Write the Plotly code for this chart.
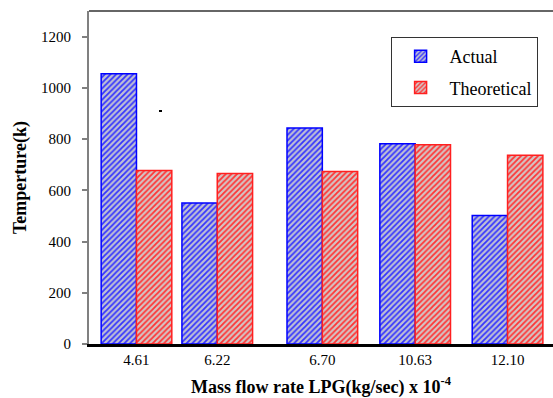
import plotly.graph_objects as go

categories = ["4.61", "6.22", "6.70", "10.63", "12.10"]
actual = [1055, 550, 843, 782, 502]
theoretical = [677, 666, 673, 778, 737]

# category positions along the axis (uneven spacing as in the original)
x_pos = [0, 0.878, 2.020, 3.029, 4.033]
bar_w = 0.384

FONT = "Liberation Serif, Times New Roman, serif"

fig = go.Figure()
fig.add_trace(go.Bar(
    x=x_pos, y=actual, name="Actual", width=bar_w, offset=-bar_w,
    legendgroup="a",
    marker=dict(color="#b4b4c8", line=dict(color="#0000ff", width=1.5),
                pattern=dict(shape="/", fgcolor="#3434ff", bgcolor="#c0c0d4",
                             size=4, solidity=0.45, fillmode="replace")),
))
fig.add_trace(go.Bar(
    x=x_pos, y=theoretical, name="Theoretical", width=bar_w, offset=0,
    legendgroup="b",
    marker=dict(color="#d0b8b8", line=dict(color="#ff2020", width=1.5),
                pattern=dict(shape="/", fgcolor="#ff3434", bgcolor="#d4c4c4",
                             size=4, solidity=0.45, fillmode="replace")),
))

fig.update_layout(
    width=553, height=398,
    margin=dict(l=89, r=0, t=11, b=54),
    paper_bgcolor="white", plot_bgcolor="white",
    font=dict(family=FONT, color="black"),
    barmode="overlay",
    showlegend=True,
    legend=dict(x=0.65, y=0.922, xanchor="left", yanchor="top",
                bordercolor="#333333", borderwidth=1, bgcolor="white",
                font=dict(family=FONT, size=18), tracegroupgap=5,
                itemwidth=48),
    xaxis=dict(
        range=[-0.516, 4.527], tickvals=x_pos, ticktext=categories,
        showgrid=False, zeroline=False, ticks="",
        showline=True, linecolor="black", linewidth=2.5,
        tickfont=dict(family=FONT, size=15),
        title=dict(text="<b>Mass flow rate LPG(kg/sec) x 10<sup>-4</sup></b>",
                   font=dict(family=FONT, size=18), standoff=14),
    ),
    yaxis=dict(
        range=[0, 1300], tickvals=[0, 200, 400, 600, 800, 1000, 1200],
        showgrid=False, zeroline=False,
        ticks="outside", ticklen=5, tickcolor="#808080", tickwidth=1.5,
        showline=True, linecolor="#808080", linewidth=2,
        tickfont=dict(family=FONT, size=15), ticklabelstandoff=8,
        title=dict(text="<b>Temperture(k)</b>",
                   font=dict(family=FONT, size=18), standoff=10),
    ),
    shapes=[
        dict(type="line", xref="paper", yref="paper", x0=0, x1=1, y0=1, y1=1,
             line=dict(color="#333333", width=1.5)),
        dict(type="rect", xref="paper", yref="paper",
             x0=(159 - 89) / 464, x1=(162 - 89) / 464,
             y0=(344 - 112) / 333, y1=(344 - 110) / 333,
             fillcolor="black", line=dict(width=0)),
    ],
)

fig.write_html("out.html")
